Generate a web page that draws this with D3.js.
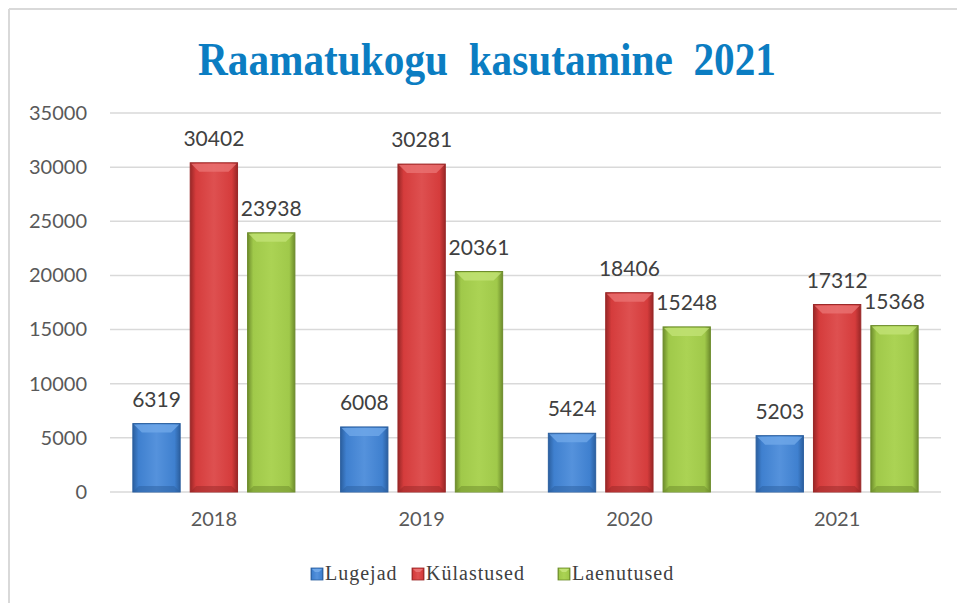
<!DOCTYPE html>
<html>
<head>
<meta charset="utf-8">
<script src="https://cdn.jsdelivr.net/npm/d3@7"></script>
<style>
    body { margin: 0; background: #fff; }
    svg { display: block; }
    .serif { font-family: "Liberation Serif", "DejaVu Serif", serif; }
    .sans { font-family: Lato, Carlito, Calibri, sans-serif; }
</style>
</head>
<body>
<div id="chart"></div>
<script>
const years = ["2018", "2019", "2020", "2021"];
const seriesNames = ["Lugejad", "Külastused", "Laenutused"];
const lugejad = [6319, 6008, 5424, 5203];
const kulastused = [30402, 30281, 18406, 17312];
const laenutused = [23938, 20361, 15248, 15368];
const yTicks = [0, 5000, 10000, 15000, 20000, 25000, 30000, 35000];

const values = [lugejad, kulastused, laenutused];
const palette = [
    { base: "#3f80cf", light: "#5592dc", dark: "#2b5f9f", top: "#6fa7e8" },
    { base: "#d53c3c", light: "#de5050", dark: "#992727", top: "#ea7272" },
    { base: "#a0c94a", light: "#abd354", dark: "#6d8c2c", top: "#c2e276" },
];

const W = 957, H = 603;
const margin = { top: 113, right: 16, bottom: 111, left: 110 };

const svg = d3.select("#chart").append("svg")
    .attr("width", W)
    .attr("height", H);

// gradients for the bevel look
const defs = svg.append("defs");
palette.forEach((c, i) => {
    const g = defs.append("linearGradient")
        .attr("id", `grad-${i}`)
        .attr("x1", "0").attr("x2", "1").attr("y1", "0").attr("y2", "0");
    g.append("stop").attr("offset", "0%").attr("stop-color", c.dark);
    g.append("stop").attr("offset", "12%").attr("stop-color", c.base);
    g.append("stop").attr("offset", "50%").attr("stop-color", c.light);
    g.append("stop").attr("offset", "88%").attr("stop-color", c.base);
    g.append("stop").attr("offset", "100%").attr("stop-color", c.dark);
});

// outer frame (only top and left edges visible)
svg.append("line").attr("x1", 9).attr("x2", W).attr("y1", 9).attr("y2", 9)
    .attr("stroke", "#d9d9d9").attr("stroke-width", 2);
svg.append("line").attr("x1", 9).attr("x2", 9).attr("y1", 9).attr("y2", H)
    .attr("stroke", "#d9d9d9").attr("stroke-width", 2);

// title (double spaces kept)
svg.append("text")
    .attr("class", "serif")
    .attr("x", 487)
    .attr("y", 75)
    .attr("text-anchor", "middle")
    .attr("textLength", 578)
    .attr("lengthAdjust", "spacingAndGlyphs")
    .style("white-space", "pre")
    .style("font-weight", "bold")
    .style("font-size", "46px")
    .style("fill", "#0b7dc2")
    .text("Raamatukogu  kasutamine  2021");

const x0 = d3.scaleBand()
    .domain(years)
    .range([margin.left, W - margin.right])
    .paddingInner(0.22)
    .paddingOuter(0.11);

const x1 = d3.scaleBand()
    .domain(seriesNames)
    .range([0, x0.bandwidth()])
    .paddingInner(0.175);

const y = d3.scaleLinear()
    .domain([0, 35000])
    .range([H - margin.bottom, margin.top]);

// gridlines
svg.append("g")
    .selectAll("line")
    .data(yTicks)
    .join("line")
    .attr("x1", margin.left)
    .attr("x2", W - margin.right)
    .attr("y1", (d) => y(d))
    .attr("y2", (d) => y(d))
    .attr("stroke", "#d9d9d9")
    .attr("stroke-width", 1.5);

// y axis labels
const yAxis = svg.append("g")
    .attr("transform", `translate(${margin.left},0)`)
    .call(d3.axisLeft(y).tickValues(yTicks).tickSize(0).tickPadding(23).tickFormat(d3.format("d")));
yAxis.select(".domain").remove();
yAxis.selectAll("text")
    .attr("class", "sans")
    .style("font-size", "20px")
    .style("fill", "#595959");

// x axis labels
const xAxis = svg.append("g")
    .attr("transform", `translate(0,${H - margin.bottom})`)
    .call(d3.axisBottom(x0).tickSize(0).tickPadding(20));
xAxis.select(".domain").remove();
xAxis.selectAll("text")
    .attr("class", "sans")
    .style("font-size", "20px")
    .style("fill", "#595959");

// bars
years.forEach((yr, yi) => {
    const group = svg.append("g")
        .attr("transform", `translate(${x0(yr)},0)`);

    seriesNames.forEach((name, si) => {
        const v = values[si][yi];
        const bx = x1(name);
        const bw = x1.bandwidth();
        const by = y(v);
        const bh = y(0) - y(v);
        const bevel = 9;

        group.append("rect")
            .attr("x", bx).attr("y", by)
            .attr("width", bw).attr("height", bh)
            .attr("fill", `url(#grad-${si})`)
            .attr("stroke", palette[si].dark)
            .attr("stroke-width", 1);
        // top bevel highlight
        group.append("path")
            .attr("d", `M${bx + 1},${by + 1} L${bx + bw - 1},${by + 1} L${bx + bw - bevel},${by + bevel} L${bx + bevel},${by + bevel} Z`)
            .attr("fill", palette[si].top)
            .attr("opacity", 0.8);
        // bottom shadow
        group.append("path")
            .attr("d", `M${bx + 1},${by + bh - 1} L${bx + bw - 1},${by + bh - 1} L${bx + bw - 6},${by + bh - 6} L${bx + 6},${by + bh - 6} Z`)
            .attr("fill", palette[si].dark)
            .attr("opacity", 0.5);

        group.append("text")
            .attr("class", "sans")
            .attr("x", bx + bw / 2)
            .attr("y", by - 17)
            .attr("text-anchor", "middle")
            .style("font-size", "21px")
            .style("fill", "#404040")
            .text(v);
    });
});

// legend
const legendX = [311, 412, 558];
const legend = svg.append("g").attr("class", "legend");
seriesNames.forEach((name, i) => {
    const item = legend.append("g")
        .attr("transform", `translate(${legendX[i]}, 568)`);
    item.append("rect")
        .attr("width", 12).attr("height", 12)
        .attr("fill", `url(#grad-${i})`)
        .attr("stroke", palette[i].dark)
        .attr("stroke-width", 0.8);
    item.append("path")
        .attr("d", "M1,1 L11,1 L8,4 L4,4 Z")
        .attr("fill", palette[i].top);
    item.append("text")
        .attr("class", "serif")
        .attr("x", 14)
        .attr("y", 12)
        .style("font-size", "20px")
        .style("letter-spacing", "1px")
        .style("fill", "#404040")
        .text(name);
});
</script>
</body>
</html>
